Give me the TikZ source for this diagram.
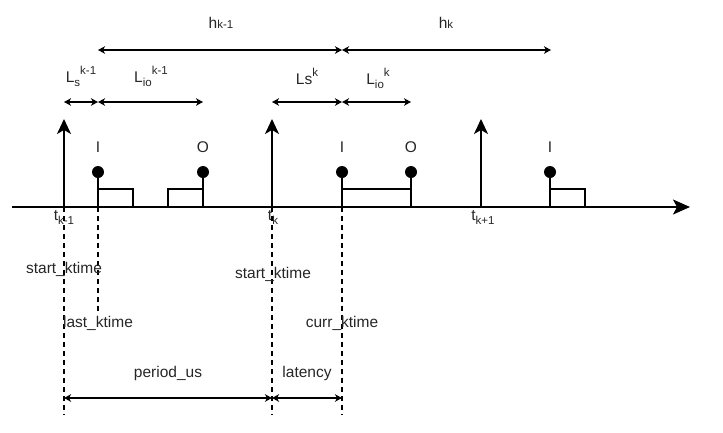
\documentclass[tikz,border=0pt]{standalone}
\usepackage{fontspec}
\setmainfont{Liberation Sans}
\usetikzlibrary{arrows.meta}
\newcommand\mysub[1]{\raisebox{-0.28em}{\fontsize{11.5}{12}\selectfont #1}}
\newcommand\mysup[1]{\raisebox{0.5em}{\fontsize{11.5}{12}\selectfont #1}}
\newcommand\mysmall[1]{{\fontsize{11.5}{12}\selectfont #1}}
\begin{document}
\begin{tikzpicture}[x=1pt,y=-1pt,
  txt/.style={font=\fontsize{15.5}{18}\selectfont, inner sep=0pt, anchor=base, text=black!85},
  ln/.style={line width=1.6pt, black},
  tickarrow/.style={ln, -{Stealth[length=15pt,width=14pt,inset=4pt]}},
  axisarrow/.style={ln, -{Stealth[length=17pt,width=15pt,inset=4pt]}},
  dimarrow/.style={line width=1.5pt, {Stealth[length=7pt,width=7.5pt,inset=2pt]}-{Stealth[length=7pt,width=7.5pt,inset=2pt]}},
  dashln/.style={line width=2pt, dash pattern=on 5pt off 4pt},
  pulse/.style={ln},
  dotnode/.style={circle, fill=black, inner sep=0pt, minimum size=12pt},
]
\useasboundingbox (0,0) rectangle (723,432);

% axis
\coordinate (a0) at (12,207);
\coordinate (a1) at (690,207);
\draw[axisarrow] (a0) -- (a1);

% tick arrows
\coordinate (t1) at (64,207);  \coordinate (t1top) at (64,119);
\coordinate (t2) at (272,207); \coordinate (t2top) at (272,119);
\coordinate (t3) at (481,207); \coordinate (t3top) at (481,119);
\draw[tickarrow] (t1) -- (t1top);
\draw[tickarrow] (t2) -- (t2top);
\draw[tickarrow] (t3) -- (t3top);

% I/O lollipops
\coordinate (i1b) at (98,207);  \node[dotnode] (i1) at (98,172) {};
\coordinate (o1b) at (203,207); \node[dotnode] (o1) at (203,172) {};
\coordinate (i2b) at (342,207); \node[dotnode] (i2) at (342,172) {};
\coordinate (o2b) at (411,207); \node[dotnode] (o2) at (411,172) {};
\coordinate (i3b) at (550,207); \node[dotnode] (i3) at (550,172) {};
\foreach \n in {i1,o1,i2,o2,i3}{\draw[pulse] (\n b) -- (\n.center);}

% rectangles
\draw[pulse] (98,189) rectangle (133,207);
\draw[pulse] (168,189) rectangle (203,207);
\draw[pulse] (342,189) rectangle (411,207);
\draw[pulse] (550,189) rectangle (585,207);

% I/O labels
\node[txt] (li1) at (98,152) {I};
\node[txt] (lo1) at (203,152) {O};
\node[txt] (li2) at (342,152) {I};
\node[txt] (lo2) at (411,152) {O};
\node[txt] (li3) at (550,152) {I};

% t labels
\node[txt] (lt1) at (64,220) {t\mysub{k-1}};
\node[txt] (lt2) at (273,220) {t\mysub{k}};
\node[txt] (lt3) at (483,220) {t\mysub{k+1}};

% dashed lines
\coordinate (d1) at (64,415);
\coordinate (d2) at (98,313);
\coordinate (d3) at (272,415);
\coordinate (d4) at (342,415);
\draw[dashln] (t1) -- (d1);
\draw[dashln] (i1b) -- (d2);
\draw[dashln] (t2) -- (d3);
\draw[dashln] (i2b) -- (d4);

% lower labels
\node[txt] (st1) at (64,273) {start\_ktime};
\node[txt] (lk) at (98,327) {last\_ktime};
\node[txt] (st2) at (273,278) {start\_ktime};
\node[txt] (ck) at (342,327) {curr\_ktime};
\node[txt] (pu) at (168,377) {period\_us};
\node[txt] (lat) at (307,377) {latency};

% bottom dimension arrows
\coordinate (b1) at (64,398);
\coordinate (b2) at (272,398);
\coordinate (b3) at (342,398);
\draw[dimarrow] (b1) -- (b2);
\draw[dimarrow] (b2) -- (b3);

% top dimension arrows
\coordinate (h0) at (98,50);
\coordinate (h1) at (342,50);
\coordinate (h2) at (551,50);
\draw[dimarrow] (h0) -- (h1);
\draw[dimarrow] (h1) -- (h2);
\coordinate (l0) at (64,102);
\coordinate (l1) at (98,102);
\coordinate (l2) at (203,102);
\coordinate (l3) at (272,102);
\coordinate (l4) at (342,102);
\coordinate (l5) at (411,102);
\draw[dimarrow] (l0) -- (l1);
\draw[dimarrow] (l1) -- (l2);
\draw[dimarrow] (l3) -- (l4);
\draw[dimarrow] (l4) -- (l5);

% top labels
\node[txt] (hk1) at (221,28) {h\mysmall{k-1}};
\node[txt] (hk) at (446,28) {h\mysmall{k}};
\node[txt] (ls1) at (81,82) {L\mysub{s}\mysup{k-1}};
\node[txt] (lio1) at (151,82) {L\mysub{io}\mysup{k-1}};
\node[txt] (ls2) at (307,84) {Ls\mysup{k}};
\node[txt] (lio2) at (378,84) {L\mysub{io}\mysup{k}};
\end{tikzpicture}
\end{document}
